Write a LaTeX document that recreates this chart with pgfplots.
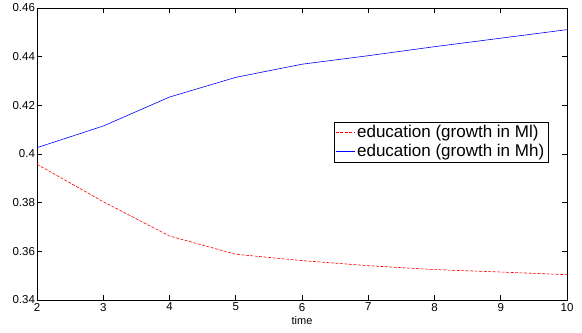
\documentclass[border=0pt]{standalone}
\usepackage{fontspec}
\setmainfont{Liberation Sans}
\usepackage{pgfplots}
\pgfplotsset{compat=1.18}
\begin{document}
\begin{tikzpicture}
\begin{axis}[
  scale only axis,
  width=530pt, height=292pt,
  xmin=2, xmax=10, ymin=0.34, ymax=0.46,
  xtick={2,3,...,10},
  ytick={0.34,0.36,...,0.461},
  axis line style={line width=0.8pt},
  tick style={black, line width=0.6pt},
  tick align=inside,
  major tick length=5pt,
  xtick pos=both, ytick pos=both,
  xticklabel pos=lower, yticklabel pos=left,
  /pgf/number format/assume math mode=true,
  yticklabel style={/pgf/number format/fixed, /pgf/number format/precision=2},
  ticklabel style={font=\fontsize{11.5}{13}\selectfont},
  xticklabel style={yshift=0.5pt},
  yticklabel style={xshift=1.5pt},
  xlabel={time},
  xlabel style={font=\fontsize{11}{13}\selectfont, yshift=2pt},
  legend style={at={(0.964,0.61)}, anchor=north east,
    font=\fontsize{17}{19}\selectfont,
    inner sep=1.5pt, row sep=1pt},
  legend cell align=left,
]
\addplot[draw=red, line width=0.6pt, dash pattern=on 3pt off 1.5pt,
  legend image code/.code={\draw[red, line width=0.6pt, dash pattern=on 3pt off 1.5pt] (0pt,0pt) -- (19pt,0pt);}]
  coordinates {
  (2,0.3958) (3,0.3804) (4,0.3663) (5,0.3588) (6,0.3562)
  (7,0.3541) (8,0.3525) (9,0.3515) (10,0.3504)};
\addlegendentry{education (growth in Ml)}
\addplot[draw=blue, line width=0.6pt,
  legend image code/.code={\draw[blue, line width=0.6pt] (0pt,0pt) -- (19pt,0pt);}]
  coordinates {
  (2,0.4026) (3,0.4115) (4,0.4234) (5,0.4315) (6,0.4369)
  (7,0.4404) (8,0.4441) (9,0.4476) (10,0.4511)};
\addlegendentry{education (growth in Mh)}
\end{axis}
\path ([shift={(-37pt,-32pt)}]current axis.south west) rectangle ([shift={(15pt,8pt)}]current axis.north east);
\end{tikzpicture}
\end{document}
